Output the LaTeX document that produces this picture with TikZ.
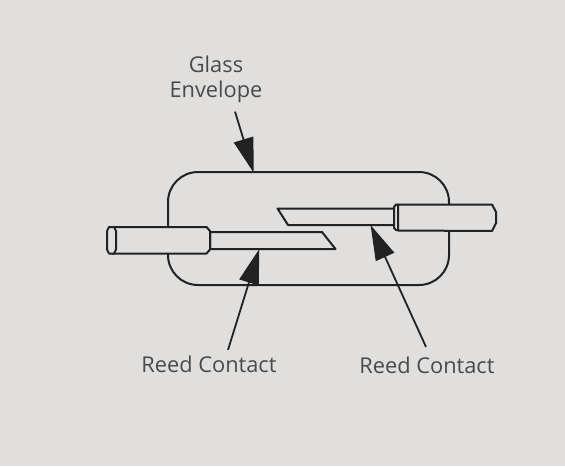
\documentclass[tikz,border=0pt]{standalone}
\usepackage{fontspec}
\setmainfont{Open Sans}
\usetikzlibrary{positioning,arrows.meta,calc}
\definecolor{panelgrey}{HTML}{E0DFDD}
\definecolor{inkdark}{HTML}{222222}
\definecolor{labelgrey}{HTML}{4A4A4A}
\tikzset{
  partline/.style={draw=inkdark, line width=2pt, line join=round},
  partlabel/.style={text=labelgrey, font=\fontsize{21.8}{25}\selectfont, align=center, inner sep=3pt},
  pointer/.style={draw=inkdark, fill=inkdark, line width=1.8pt, -{Triangle[length=35pt,width=20pt]}, shorten >=-1pt}
}
\begin{document}
\begin{tikzpicture}[x=1pt,y=-1pt]
\fill[panelgrey] (0,0) rectangle (565,466);
\useasboundingbox (0,0) rectangle (565,466);
\node[partline, rounded corners=30pt, minimum width=281pt, minimum height=113pt, inner sep=0pt] (envelope) at (308.5,228.5) {};
% left lead and reed
\draw[partline, fill=panelgrey] (210,232) -- (322,232) -- (335.5,249) -- (210,249) -- cycle;
\draw[partline, fill=panelgrey] (112,227) -- (206.5,227) -- (210,231) -- (210,249.5) -- (206.5,253.5) -- (112,253.5) -- cycle;
\draw[partline, fill=panelgrey] (107,231) -- (109,227) -- (114,227) -- (116,231) -- (116,249.5) -- (114,253.5) -- (109,253.5) -- (107,249.5) -- cycle;
% right lead and reed
\draw[partline, fill=panelgrey] (277.5,208.5) -- (398,208.5) -- (398,225) -- (288,225) -- cycle;
\draw[partline, fill=panelgrey] (394,207) -- (396,204.5) -- (398,204.5) -- (398,230) -- (396,230) -- (394,228) -- cycle;
\draw[partline, fill=panelgrey] (398,204.5) -- (492,204.5) -- (496,212) -- (496,223) -- (492,231) -- (398,230.5) -- cycle;
% labels
\node[partlabel] (glass) at (216,79) {Glass\\Envelope};
\node[partlabel] (reedleft) at (209,364.5) {Reed Contact};
\node[partlabel] (reedright) at (427,365.5) {Reed Contact};
\coordinate (glasstip) at (253.5,172);
\coordinate (reedlefttip) at (259,250);
\coordinate (reedrighttip) at (371,226);
\draw[pointer] ([xshift=19pt,yshift=-6pt]glass.south) -- (glasstip);
\draw[pointer] ([xshift=19pt,yshift=3pt]reedleft.north) -- (reedlefttip);
\draw[pointer] ([xshift=-1pt,yshift=7pt]reedright.north) -- (reedrighttip);
\end{tikzpicture}
\end{document}
